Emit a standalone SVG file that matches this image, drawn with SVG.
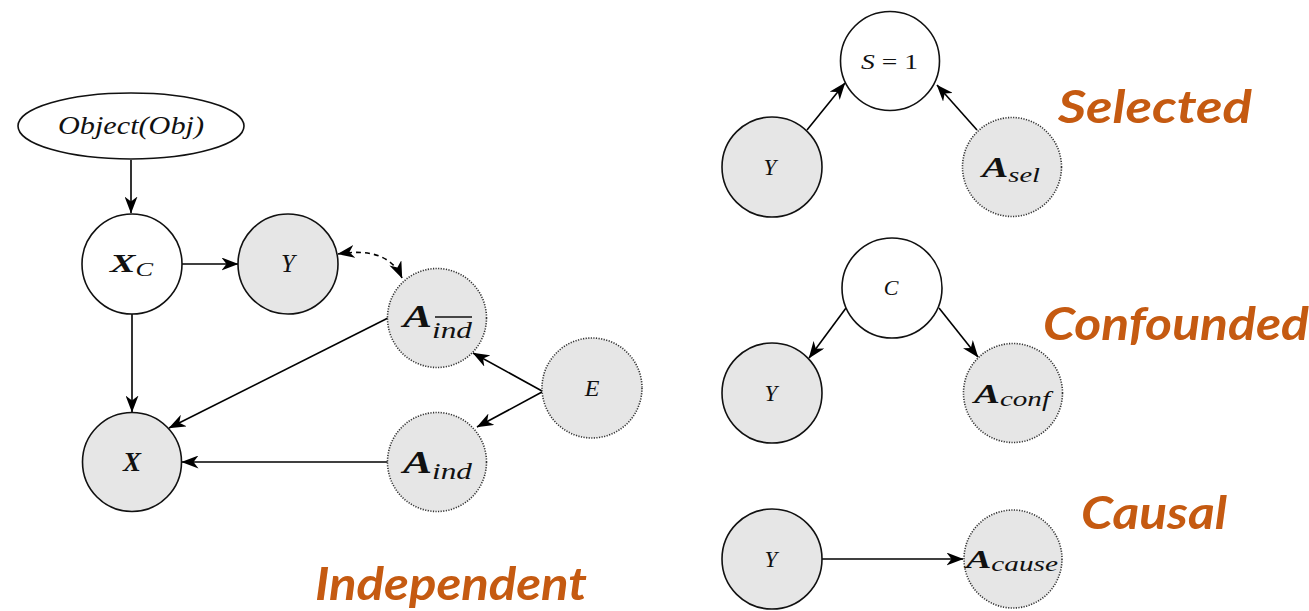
<svg xmlns="http://www.w3.org/2000/svg" width="1309" height="611" viewBox="0 0 1309 611">
  <defs>
    <marker id="arrow" viewBox="0 0 17 13" markerWidth="17" markerHeight="13" refX="16.5" refY="6.5" orient="auto-start-reverse" markerUnits="userSpaceOnUse">
      <path d="M0,0 L17,6.5 L0,13 L5,6.5 Z" fill="#000"/>
    </marker>
    <style>
      .solid { fill: #fff; stroke: #111; stroke-width: 1.6; }
      .obs { fill: #e6e6e6; stroke: #111; stroke-width: 1.6; }
      .dot { fill: #e6e6e6; stroke: #333; stroke-width: 1.6; stroke-dasharray: 1.2 1.4; }
      .edge { fill: none; stroke: #000; stroke-width: 1.6; marker-end: url(#arrow); }
      .label { font-family: Lato, 'Open Sans', sans-serif; font-weight: bold; font-style: italic; fill: #c55a11; font-size: 46px; }
    </style>
  </defs>

  <!-- edges -->
  <g id="connectors">
    <path class="edge" d="M131,160 L131,213"/>
    <path class="edge" d="M182,264 L238,264"/>
    <path class="edge" d="M132,314 L132,412"/>
    <path class="edge" d="M388,318 L169,428"/>
    <path class="edge" d="M388,462 L182,462"/>
    <path class="edge" d="M542,391 L473,353"/>
    <path class="edge" d="M542,392 L477,427"/>
    <path class="edge" d="M338,254 Q388,246 402,278" stroke-dasharray="5 4" marker-start="url(#arrow)"/>
    <path class="edge" d="M807,130 L845,83"/>
    <path class="edge" d="M977,130 L937,85"/>
    <path class="edge" d="M846,308 L809,358"/>
    <path class="edge" d="M939,308 L978,357"/>
    <path class="edge" d="M822,559 L963,559"/>
  </g>

  <!-- math labels use a Times-like serif italic -->
  <g font-family="'Times New Roman', Times, 'Liberation Serif', Tinos, 'Noto Serif', 'DejaVu Serif', serif" font-style="italic" fill="#111">

  <!-- independent graph -->
  <g id="node-object">
    <ellipse class="solid" cx="131" cy="126" rx="113" ry="33"/>
    <text x="131" y="134" font-size="25" text-anchor="middle" textLength="146" lengthAdjust="spacingAndGlyphs">Object(Obj)</text>
  </g>
  <g id="node-xc">
    <circle class="solid" cx="132" cy="264" r="50"/>
    <text x="110" y="272" font-size="26" textLength="43" lengthAdjust="spacingAndGlyphs"><tspan font-weight="bold">X</tspan><tspan font-size="18" dy="4">C</tspan></text>
  </g>
  <g id="node-y">
    <circle class="obs" cx="288" cy="264" r="50"/>
    <text x="288" y="272" font-size="25" text-anchor="middle">Y</text>
  </g>
  <g id="node-a-notind">
    <circle class="dot" cx="437" cy="318" r="49.5"/>
    <text x="403" y="327" font-size="32" textLength="69" lengthAdjust="spacingAndGlyphs"><tspan font-weight="bold">A</tspan><tspan font-size="23" dy="11">ind</tspan></text>
    <line x1="435" y1="317" x2="472" y2="317" stroke="#111" stroke-width="1.4"/>
  </g>
  <g id="node-e">
    <circle class="dot" cx="592" cy="388" r="50"/>
    <text x="592" y="396" font-size="24" text-anchor="middle">E</text>
  </g>
  <g id="node-a-ind">
    <circle class="dot" cx="437" cy="462" r="49.5"/>
    <text x="403" y="473" font-size="32" textLength="69" lengthAdjust="spacingAndGlyphs"><tspan font-weight="bold">A</tspan><tspan font-size="23" dy="6">ind</tspan></text>
  </g>
  <g id="node-x">
    <circle class="obs" cx="132" cy="462" r="49.5"/>
    <text x="132" y="471" font-size="27" font-weight="bold" text-anchor="middle">X</text>
  </g>

  <!-- selected graph -->
  <g id="node-s">
    <circle class="solid" cx="890" cy="61" r="49.5"/>
    <text x="861" y="69" font-size="22" textLength="57" lengthAdjust="spacingAndGlyphs">S<tspan font-style="normal"> = 1</tspan></text>
  </g>
  <g id="node-y-sel">
    <circle class="obs" cx="772" cy="167" r="50"/>
    <text x="770" y="175" font-size="23" text-anchor="middle">Y</text>
  </g>
  <g id="node-a-sel">
    <circle class="dot" cx="1012" cy="167" r="49.5"/>
    <text x="982" y="177" font-size="29" textLength="58" lengthAdjust="spacingAndGlyphs"><tspan font-weight="bold">A</tspan><tspan font-size="21" dy="5">sel</tspan></text>
  </g>

  <!-- confounded graph -->
  <g id="node-c">
    <circle class="solid" cx="892" cy="288" r="50"/>
    <text x="891" y="295" font-size="22" text-anchor="middle">C</text>
  </g>
  <g id="node-y-conf">
    <circle class="obs" cx="772" cy="393" r="50"/>
    <text x="771" y="401" font-size="23" text-anchor="middle">Y</text>
  </g>
  <g id="node-a-conf">
    <circle class="dot" cx="1013" cy="393" r="49.5"/>
    <text x="974" y="403" font-size="28" textLength="76" lengthAdjust="spacingAndGlyphs"><tspan font-weight="bold">A</tspan><tspan font-size="21" dy="3">conf</tspan></text>
  </g>

  <!-- causal graph -->
  <g id="node-y-cause">
    <circle class="obs" cx="772" cy="559" r="50"/>
    <text x="771" y="567" font-size="23" text-anchor="middle">Y</text>
  </g>
  <g id="node-a-cause">
    <circle class="dot" cx="1013" cy="559" r="49"/>
    <text x="966" y="568" font-size="26" textLength="92" lengthAdjust="spacingAndGlyphs"><tspan font-weight="bold">A</tspan><tspan font-size="20" dy="3">cause</tspan></text>
  </g>

  </g>

  <!-- captions -->
  <text class="label" x="1058" y="123" textLength="194" lengthAdjust="spacingAndGlyphs">Selected</text>
  <text class="label" x="1043" y="340" textLength="266" lengthAdjust="spacingAndGlyphs">Confounded</text>
  <text class="label" x="1081" y="529" textLength="146" lengthAdjust="spacingAndGlyphs">Causal</text>
  <text class="label" x="315" y="600" textLength="272" lengthAdjust="spacingAndGlyphs">Independent</text>
</svg>
